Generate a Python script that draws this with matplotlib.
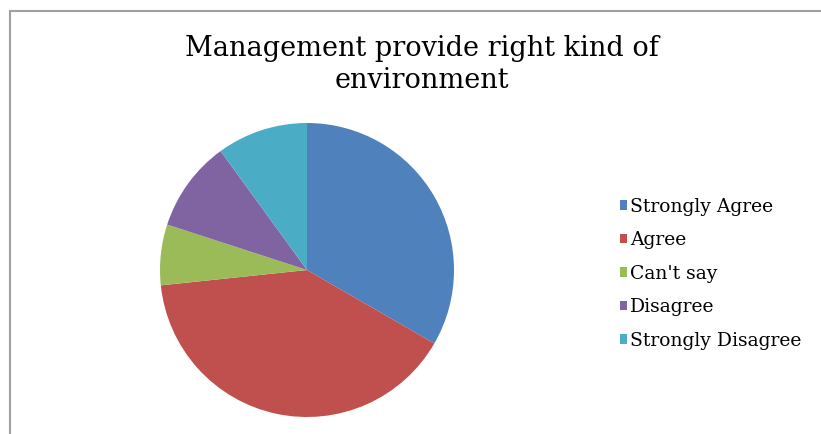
import matplotlib.pyplot as plt
from matplotlib.patches import Rectangle

labels = ["Strongly Agree", "Agree", "Can't say", "Disagree", "Strongly Disagree"]
values = [10, 12, 2, 3, 3]
colors = ["#4F81BD", "#C0504D", "#9BBB59", "#8064A2", "#4BACC6"]

W, H = 821, 434
fig = plt.figure(figsize=(W / 100, H / 100), dpi=100)
plt.rcParams['font.family'] = ['DejaVu Serif']

# chart frame (only left and top edges visible)
fig.patches.append(Rectangle((10 / W, -0.1), 1.2, (H - 11) / H + 0.1,
                             transform=fig.transFigure, fill=False,
                             edgecolor="#a0a0a0", linewidth=1.5))

cx, cy, r = 307, 270, 147
ax = fig.add_axes([(cx - r) / W, (H - cy - r) / H, 2 * r / W, 2 * r / H])
wedges, _ = ax.pie(values, colors=colors, startangle=90, counterclock=False,
                   radius=1, wedgeprops=dict(linewidth=0))
ax.set_xlim(-1, 1)
ax.set_ylim(-1, 1)
ax.set_aspect("equal")
ax.axis("off")

fig.text(422 / W, 1 - 48 / H, "Management provide right kind of", ha="center",
         va="center", fontsize=19.5)
fig.text(422 / W, 1 - 81 / H, "environment", ha="center", va="center", fontsize=19.5)

fig.legend(wedges, labels, loc="upper left", bbox_to_anchor=(612 / W, 1 - 190 / H),
           frameon=False, fontsize=13.5, handlelength=0.4, handleheight=0.4,
           handletextpad=0.15, labelspacing=0.83, borderaxespad=0)

fig.savefig("out.png", dpi=100)
